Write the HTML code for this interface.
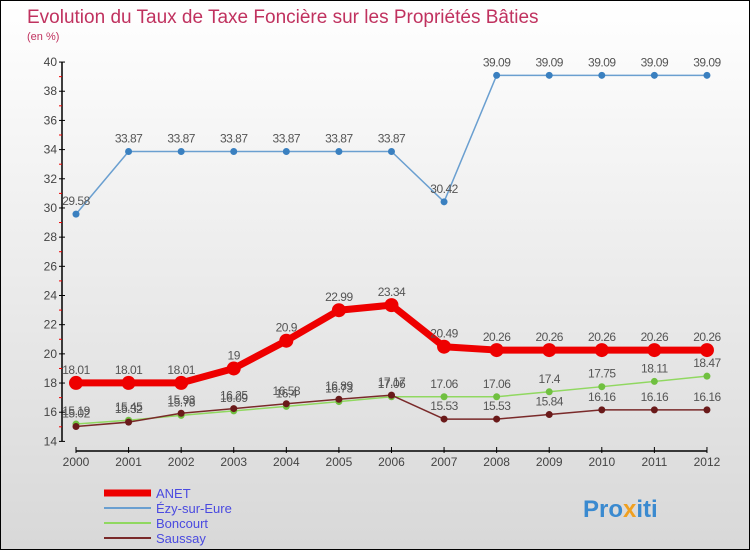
<!DOCTYPE html>
<html><head><meta charset="utf-8"><style>
body{margin:0}
#c{width:748px;height:548px;border:1px solid #000;background:linear-gradient(#fff,#d8d8d8);position:relative;font-family:"Liberation Sans",sans-serif;overflow:hidden}
svg text{font-family:"Liberation Sans",sans-serif}
</style></head><body>
<div id="c">
<svg width="748" height="548" id="svg">
<text x="26" y="22" font-size="19" fill="#c0325f">Evolution du Taux de Taxe Foncière sur les Propriétés Bâties</text>
<text x="26" y="39" font-size="11" fill="#c0325f">(en %)</text>
<g id="axes"></g><g id="series"></g>
<g>
<line x1="103" y1="492" x2="150" y2="492" stroke="#e00" stroke-width="7"/>
<text x="155" y="497" font-size="13" fill="#4a4ae0">ANET</text>
<line x1="103" y1="507" x2="150" y2="507" stroke="#6a9fd0" stroke-width="2"/>
<text x="155" y="512" font-size="13" fill="#4a4ae0">Ézy-sur-Eure</text>
<line x1="103" y1="522" x2="150" y2="522" stroke="#90d860" stroke-width="2"/>
<text x="155" y="527" font-size="13" fill="#4a4ae0">Boncourt</text>
<line x1="103" y1="537" x2="150" y2="537" stroke="#7a2a2a" stroke-width="2"/>
<text x="155" y="542" font-size="13" fill="#4a4ae0">Saussay</text>
</g>
<text x="582" y="516" font-size="24" font-weight="bold" fill="#3a8ad0">Pro<tspan fill="#f0a020">x</tspan>iti</text>
</svg></div>
<script>
const years=[2000,2001,2002,2003,2004,2005,2006,2007,2008,2009,2010,2011,2012];
const yTicks=[14,16,18,20,22,24,26,28,30,32,34,36,38,40];
const anet=[18.01,18.01,18.01,19,20.9,22.99,23.34,20.49,20.26,20.26,20.26,20.26,20.26];
const ezy=[29.58,33.87,33.87,33.87,33.87,33.87,33.87,30.42,39.09,39.09,39.09,39.09,39.09];
const boncourt=[15.19,15.45,15.78,16.09,16.4,16.73,17.06,17.06,17.06,17.4,17.75,18.11,18.47];
const saussay=[15.02,15.32,15.93,16.25,16.58,16.89,17.17,15.53,15.53,15.84,16.16,16.16,16.16];
const NS='http://www.w3.org/2000/svg';
const X=i=>75+i*52.58, Y=v=>440.4-(v-14)*14.59;
function mk(t,a,p){const e=document.createElementNS(NS,t);for(const k in a)e.setAttribute(k,a[k]);p.appendChild(e);return e;}
const ax=document.getElementById('axes'), sg=document.getElementById('series');
let yl=mk('line',{x1:61,y1:Y(40),x2:61,y2:Y(14),stroke:'#000','stroke-width':1.5},ax);


let xl=mk('line',{x1:75,y1:450,x2:X(12),y2:450,stroke:'#000','stroke-width':1.5},ax);


yTicks.forEach(v=>{
 mk('line',{x1:58,y1:Y(v),x2:64,y2:Y(v),stroke:'#000'},ax);
 if(v<40)mk('line',{x1:58,y1:Y(v+1),x2:61,y2:Y(v+1),stroke:'#e00'},ax);
 const t=mk('text',{x:56,y:Y(v)+4,'font-size':12,'text-anchor':'end',fill:'#444'},ax);t.textContent=v;
 
 
});
years.forEach((y,i)=>{
 mk('line',{x1:X(i),y1:446,x2:X(i),y2:452,stroke:'#000'},ax);
 const t=mk('text',{x:X(i),y:465,'font-size':12,'text-anchor':'middle',fill:'#444'},ax);t.textContent=y;
 
 
});
function series(d,col,w,r,name,dcol){
 const g=mk('g',{},sg);
 
 
 mk('polyline',{points:d.map((v,i)=>X(i)+','+Y(v)).join(' '),fill:'none',stroke:col,'stroke-width':w,'stroke-linejoin':'round'},g);
 d.forEach((v,i)=>{
  const c=mk('circle',{cx:X(i),cy:Y(v),r:r,fill:dcol},g);
  
  
  const t=mk('text',{x:X(i),y:Y(v)-9,'font-size':12,'text-anchor':'middle',fill:'#555','letter-spacing':'-0.5'},g);t.textContent=v;
  
  
 });
}
series(ezy,'#6a9fd0',1.5,3.5,'ezy','#3a80c0');
series(boncourt,'#90d860',1.5,3.5,'boncourt','#70c040');
series(saussay,'#7a2a2a',1.5,3.5,'saussay','#6a1a1a');
series(anet,'#e00',7,7,'anet','#e00');
</script>
</body></html>
